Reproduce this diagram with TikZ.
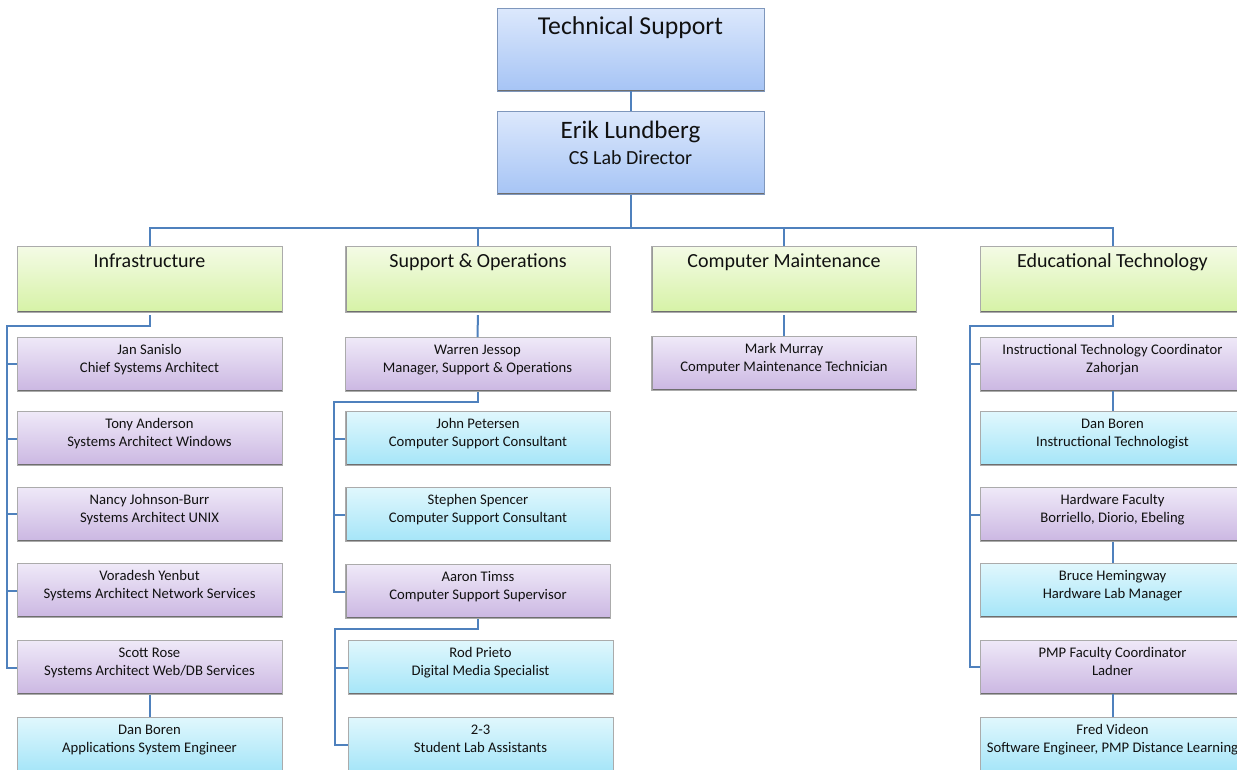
\documentclass[tikz,border=0pt]{standalone}
\usepackage{fontspec}
\setmainfont{Carlito}
\definecolor{bluetop}{HTML}{DCE8FC}
\definecolor{bluebot}{HTML}{A6C4F5}
\definecolor{greentop}{HTML}{F4FBE6}
\definecolor{greenbot}{HTML}{D6F2A6}
\definecolor{purptop}{HTML}{EFE9F8}
\definecolor{purpbot}{HTML}{CBB7E2}
\definecolor{cyantop}{HTML}{E0F7FD}
\definecolor{cyanbot}{HTML}{A5E5F8}
\definecolor{connc}{HTML}{4F81BD}
\definecolor{bordc}{HTML}{ABABAB}
\definecolor{topbord}{HTML}{7F97BC}
\definecolor{shadc}{HTML}{6E6E6E}
\definecolor{txtc}{HTML}{111111}
\newcommand\twoline[2]{\begin{tabular}[t]{@{}c@{}}#1\\#2\end{tabular}}
\newcommand\orgbox[6]{%
  \node[#1] (#2) at (#3,#4) {};
  \node[smalltext] (#2-t) at ([yshift=7.5pt]#2.center) {\twoline{#5}{#6}};}
\tikzset{
  boxbase/.style={inner sep=0pt, line width=0.6pt, draw=bordc,
    path picture={
      \draw[line width=2.2pt, draw=shadc] (path picture bounding box.south west) -- (path picture bounding box.south east);
      \draw[line width=1.6pt, draw=shadc!70] (path picture bounding box.south west) -- (path picture bounding box.north west);}},
  topbox/.style={boxbase, draw=topbord, top color=bluetop, bottom color=bluebot, minimum width=200.25pt, minimum height=62.25pt},
  greenbox/.style={boxbase, top color=greentop, bottom color=greenbot, minimum width=198.75pt, minimum height=49.5pt},
  purpbox/.style={boxbase, top color=purptop, bottom color=purpbot, minimum width=198.75pt, minimum height=40.5pt},
  cyanbox/.style={boxbase, top color=cyantop, bottom color=cyanbot, minimum width=198.75pt, minimum height=40.5pt},
  smalltext/.style={anchor=base, inner sep=0pt, text=txtc, font=\fontsize{11}{13.5}\selectfont},
  greentext/.style={anchor=base, inner sep=0pt, text=txtc, font=\fontsize{15}{18}\selectfont},
  bigtext/.style={anchor=base, inner sep=0pt, text=txtc, font=\fontsize{19.3}{23}\selectfont},
  erikname/.style={anchor=base, inner sep=0pt, text=txtc, font=\fontsize{18.8}{22}\selectfont},
  midtext/.style={anchor=base, inner sep=0pt, text=txtc, font=\fontsize{15}{18}\selectfont},
  conn/.style={draw=connc, line width=1.5pt},
  gconn/.style={conn, shorten <=2pt}
}
\begin{document}
\begin{tikzpicture}[x=0.75pt, y=-0.75pt]
\useasboundingbox (0,0) rectangle (1237,769);
% top
\node[topbox] (tech) at (630.5,49.5) {};
\node[bigtext] (tech-t) at ([yshift=11.6pt]tech.center) {Technical Support};
\node[topbox] (erik) at (630.5,153) {};
\node[erikname] (erik-t1) at ([yshift=11.25pt]erik.center) {Erik Lundberg};
\node[midtext] (erik-t2) at ([yshift=-8.25pt]erik.center) {CS Lab Director};
% departments
\node[greenbox] (infra) at (149.5,279) {};
\node[greentext] (infra-t) at ([yshift=9pt]infra.center) {Infrastructure};
\node[greenbox] (sop) at (478,279) {};
\node[greentext] (sop-t) at ([yshift=9pt]sop.center) {Support \& Operations};
\node[greenbox] (cm) at (784,279) {};
\node[greentext] (cm-t) at ([yshift=9pt]cm.center) {Computer Maintenance};
\node[greenbox] (edu) at (1112.5,279) {};
\node[greentext] (edu-t) at ([yshift=9pt]edu.center) {Educational Technology};
% infrastructure
\orgbox{purpbox}{jan}{149.5}{364}{Jan Sanislo}{Chief Systems Architect}
\orgbox{purpbox}{tony}{149.5}{438.5}{Tony Anderson}{Systems Architect Windows}
\orgbox{purpbox}{nancy}{149.5}{514}{Nancy Johnson-Burr}{Systems Architect UNIX}
\orgbox{purpbox}{vora}{149.5}{590.5}{Voradesh Yenbut}{Systems Architect Network Services}
\orgbox{purpbox}{scott}{149.5}{667.5}{Scott Rose}{Systems Architect Web/DB Services}
\orgbox{cyanbox}{danA}{149.5}{744.5}{Dan Boren}{Applications System Engineer}
% support & operations
\orgbox{purpbox}{warren}{477.5}{364.5}{Warren Jessop}{Manager, Support \& Operations}
\orgbox{cyanbox}{john}{478}{438.5}{John Petersen}{Computer Support Consultant}
\orgbox{cyanbox}{steph}{478}{514.5}{Stephen Spencer}{Computer Support Consultant}
\orgbox{purpbox}{aaron}{478}{591.5}{Aaron Timss}{Computer Support Supervisor}
\orgbox{cyanbox}{rod}{480.5}{667.5}{Rod Prieto}{Digital Media Specialist}
\orgbox{cyanbox}{lab}{480.5}{744.5}{2-3}{Student Lab Assistants}
% computer maintenance
\orgbox{purpbox}{mark}{784}{363.5}{Mark Murray}{Computer Maintenance Technician}
% educational technology
\orgbox{purpbox}{itc}{1112.5}{364}{Instructional Technology Coordinator}{Zahorjan}
\orgbox{cyanbox}{danB}{1112.5}{438.5}{Dan Boren}{Instructional Technologist}
\orgbox{purpbox}{hw}{1112.5}{514.5}{Hardware Faculty}{Borriello, Diorio, Ebeling}
\orgbox{cyanbox}{bruce}{1112.5}{590.5}{Bruce Hemingway}{Hardware Lab Manager}
\orgbox{purpbox}{pmp}{1112.5}{667}{PMP Faculty Coordinator}{Ladner}
\orgbox{cyanbox}{fred}{1112.5}{744.5}{Fred Videon}{Software Engineer, PMP Distance Learning}
% connector helper coordinates
\coordinate (bus) at (0,228);
\coordinate (ib) at (7,326);
\coordinate (wb) at (334,402);
\coordinate (ab) at (335,629);
\coordinate (eb) at (970,326);
% connectors
\draw[conn] (tech.south) -- (erik.north);
\draw[conn] (erik.south) -- (erik.south |- bus);
\draw[conn] (infra.north) -- (infra.north |- bus) -- (edu.north |- bus) -- (edu.north);
\draw[conn] (sop.north) -- (sop.north |- bus);
\draw[conn] (cm.north) -- (cm.north |- bus);
% infrastructure
\draw[gconn] (infra.south) -- (infra.south |- ib) -- (ib) -- (ib |- scott.west) -- (scott.west);
\foreach \n in {jan,tony,nancy,vora} \draw[conn] (ib |- \n.west) -- (\n.west);
\draw[conn] (scott.south) -- (danA.north);
% support
\draw[gconn] (sop.south) -- (warren.north);
\draw[conn] (warren.south) -- (warren.south |- wb) -- (wb) -- (wb |- aaron.west) -- (aaron.west);
\foreach \n in {john,steph} \draw[conn] (wb |- \n.west) -- (\n.west);
\draw[conn] (aaron.south) -- (aaron.south |- ab) -- (ab) -- (ab |- lab.west) -- (lab.west);
\draw[conn] (ab |- rod.west) -- (rod.west);
% maintenance
\draw[gconn] (cm.south) -- (mark.north);
% educational
\draw[gconn] (edu.south) -- (edu.south |- eb) -- (eb) -- (eb |- pmp.west) -- (pmp.west);
\foreach \n in {itc,hw} \draw[conn] (eb |- \n.west) -- (\n.west);
\draw[conn] (itc.south) -- (danB.north);
\draw[conn] (hw.south) -- (bruce.north);
\draw[conn] (pmp.south) -- (fred.north);
\end{tikzpicture}
\end{document}
